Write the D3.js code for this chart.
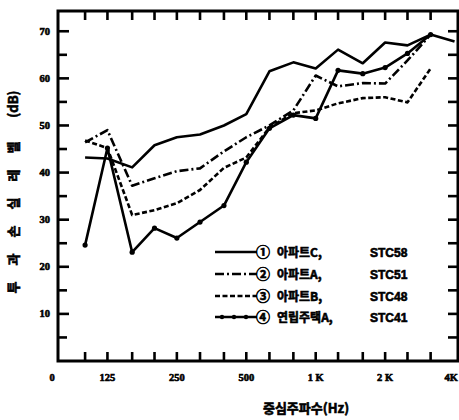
<!DOCTYPE html>
<html>
<head>
<meta charset="utf-8">
<script src="https://cdn.jsdelivr.net/npm/d3@7"></script>
<style>
    body { margin: 0; background: #fff; }
    svg { display: block; }
    text { fill: #000; }
    .heavy { stroke: #000; stroke-width: 0.6px; }
</style>
</head>
<body>
<div id="graph"></div>
<script>
// 1/3 옥타브 중심주파수 (Hz)
var freqs = [100, 125, 160, 200, 250, 315, 400, 500, 630, 800, 1000, 1250, 1600, 2000, 2500, 3150, 4000];

// 투과손실 (dB)
var aptC = [43.2, 43.0, 41.1, 45.8, 47.5, 48.1, 50.0, 52.4, 61.5, 63.4, 62.1, 66.1, 63.2, 67.6, 67.0, 69.3, 67.8];
var aptA = [46.4, 49.0, 37.2, 38.8, 40.3, 40.9, 44.5, 47.5, 50.0, 53.2, 60.6, 58.3, 59.0, 58.9, 63.8, 69.3];
var aptB = [46.8, 45.2, 31.0, 32.0, 33.5, 36.3, 41.0, 43.2, 49.6, 52.6, 53.2, 54.7, 55.8, 56.0, 54.9, 62.1];
var rowA = [24.6, 45.2, 23.1, 28.2, 26.1, 29.5, 33.0, 42.2, 49.4, 52.2, 51.5, 61.7, 61.0, 62.3, 65.3, 69.3];

var legendNums = ["①", "②", "③", "④"];
var legendNames = ["아파트C,", "아파트A,", "아파트B,", "연립주택A,"];
var legendStc = ["STC58", "STC51", "STC48", "STC41"];

var xLabelFreqs = [76.3, 125, 250, 500, 1000, 2000, 4000];
var xLabelText = ["0", "125", "250", "500", "1 K", "2 K", "4K"];
var yTicks = [10, 20, 30, 40, 50, 60, 70];

function load() {
    var width = 459;
    var height = 420;
    var left = 58, right = 458, top = 11, bottom = 361;

    var svg = d3.select("#graph").append("svg")
        .attr("width", width)
        .attr("height", height);

    var x = d3.scaleLog()
        .domain([76.3, 4140])
        .range([left, right]);
    var y = d3.scaleLinear()
        .domain([0, 74.3])
        .range([bottom, top]);

    var series = [
        {values: aptC, dash: null, dots: false},
        {values: aptA, dash: "9,3,2,3", dots: false},
        {values: aptB, dash: "5,2.5", dots: false},
        {values: rowA, dash: null, dots: true}
    ];

    var line = d3.line()
        .x(function(d, i) { return x(freqs[i]); })
        .y(function(d) { return y(d); });

    // 눈금 (inside ticks on all four sides)
    var ticks = svg.append("g").attr("class", "ticks")
        .attr("stroke", "#000")
        .attr("stroke-width", 2.6);

    var bandTicks = freqs.slice(0, 16);
    ticks.selectAll(".tb").data(bandTicks).enter().append("line")
        .attr("x1", function(d) { return x(d); })
        .attr("x2", function(d) { return x(d); })
        .attr("y1", bottom)
        .attr("y2", bottom - 9);
    ticks.selectAll(".tt").data(bandTicks).enter().append("line")
        .attr("x1", function(d) { return x(d); })
        .attr("x2", function(d) { return x(d); })
        .attr("y1", top)
        .attr("y2", top + 9);

    var minor = d3.range(5, 75, 5);
    ticks.selectAll(".tl").data(minor).enter().append("line")
        .attr("x1", left)
        .attr("x2", function(d) { return d % 10 == 0 ? left + 11 : left + 9; })
        .attr("y1", function(d) { return y(d); })
        .attr("y2", function(d) { return y(d); });
    ticks.selectAll(".tr").data(minor).enter().append("line")
        .attr("x1", right)
        .attr("x2", right - 10)
        .attr("y1", function(d) { return y(d); })
        .attr("y2", function(d) { return y(d); });

    // frame
    svg.append("path")
        .attr("d", "M" + left + "," + top + "H" + right + "V" + bottom + "H" + left + "Z")
        .attr("fill", "none")
        .attr("stroke", "#000")
        .attr("stroke-width", 3);

    // lines
    var lines = svg.append("g").attr("class", "lines");
    series.forEach(function(s) {
        lines.append("path")
            .attr("d", line(s.values))
            .attr("fill", "none")
            .attr("stroke", "#000")
            .attr("stroke-width", 2.6)
            .attr("stroke-linejoin", "round")
            .attr("stroke-dasharray", s.dash);
        if (s.dots) {
            lines.selectAll(".dot").data(s.values).enter().append("circle")
                .attr("cx", function(d, i) { return x(freqs[i]); })
                .attr("cy", function(d) { return y(d); })
                .attr("r", 2.6)
                .attr("fill", "#000");
        }
    });

    // tick labels
    var numFont = "'Liberation Serif', serif";
    svg.append("g").selectAll("text").data(yTicks).enter().append("text")
        .attr("class", "heavy")
        .attr("x", 50)
        .attr("y", function(d) { return y(d) + 3.5; })
        .attr("text-anchor", "end")
        .attr("font-family", numFont)
        .attr("font-weight", "bold")
        .attr("font-size", 10.5)
        .text(function(d) { return d; });

    svg.append("g").selectAll("text").data(xLabelFreqs).enter().append("text")
        .attr("class", "heavy")
        .attr("x", function(d, i) {
            if (i == 0) return x(d) - 6;
            if (i == xLabelFreqs.length - 1) return width - 1;
            return x(d);
        })
        .attr("y", 381)
        .attr("text-anchor", function(d, i) { return i == xLabelFreqs.length - 1 ? "end" : "middle"; })
        .attr("font-family", numFont)
        .attr("font-weight", "bold")
        .attr("font-size", 10.5)
        .text(function(d, i) { return xLabelText[i]; });

    // axis titles
    var krFont = "'Noto Sans CJK KR', sans-serif";
    svg.append("text")
        .attr("class", "heavy")
        .attr("x", 306)
        .attr("y", 413)
        .attr("text-anchor", "middle")
        .attr("font-family", krFont)
        .attr("font-weight", "bold")
        .attr("font-size", 13)
        .text("중심주파수(Hz)");

    var yTitle = svg.append("text")
        .attr("class", "heavy")
        .attr("transform", "translate(18,192) rotate(-90)")
        .attr("text-anchor", "middle")
        .attr("font-family", krFont)
        .attr("font-weight", "bold")
        .attr("font-size", 13);
    yTitle.append("tspan")
        .attr("letter-spacing", 16)
        .text("투과손실레벨");
    yTitle.append("tspan")
        .attr("dx", 8)
        .text("(dB)");

    // legend
    var legend = svg.append("g").attr("class", "legend");
    var rows = legend.selectAll("g").data(series).enter().append("g")
        .attr("transform", function(d, i) {
            var ly = [252, 274, 296, 317][i];
            return "translate(0," + ly + ")";
        });
    rows.append("line")
        .attr("x1", 215).attr("x2", 257)
        .attr("stroke", "#000")
        .attr("stroke-width", 2.4)
        .attr("stroke-dasharray", function(d) { return d.dash; });
    rows.filter(function(d) { return d.dots; }).selectAll("circle")
        .data([222, 234, 246]).enter().append("circle")
        .attr("cx", function(d) { return d; })
        .attr("r", 2.2)
        .attr("fill", "#000");
    rows.append("text")
        .attr("class", "heavy")
        .attr("x", 256).attr("y", 5)
        .attr("font-family", krFont)
        .attr("font-weight", "bold")
        .attr("font-size", 14)
        .text(function(d, i) { return legendNums[i]; });
    rows.append("text")
        .attr("class", "heavy")
        .attr("x", 277).attr("y", 5)
        .attr("font-family", krFont)
        .attr("font-weight", "bold")
        .attr("font-size", 12)
        .text(function(d, i) { return legendNames[i]; });
    rows.append("text")
        .attr("class", "heavy")
        .attr("x", 370).attr("y", 5)
        .attr("font-family", "'Liberation Sans', sans-serif")
        .attr("font-weight", "bold")
        .attr("font-size", 12)
        .text(function(d, i) { return legendStc[i]; });
}

load();
</script>
</body>
</html>
